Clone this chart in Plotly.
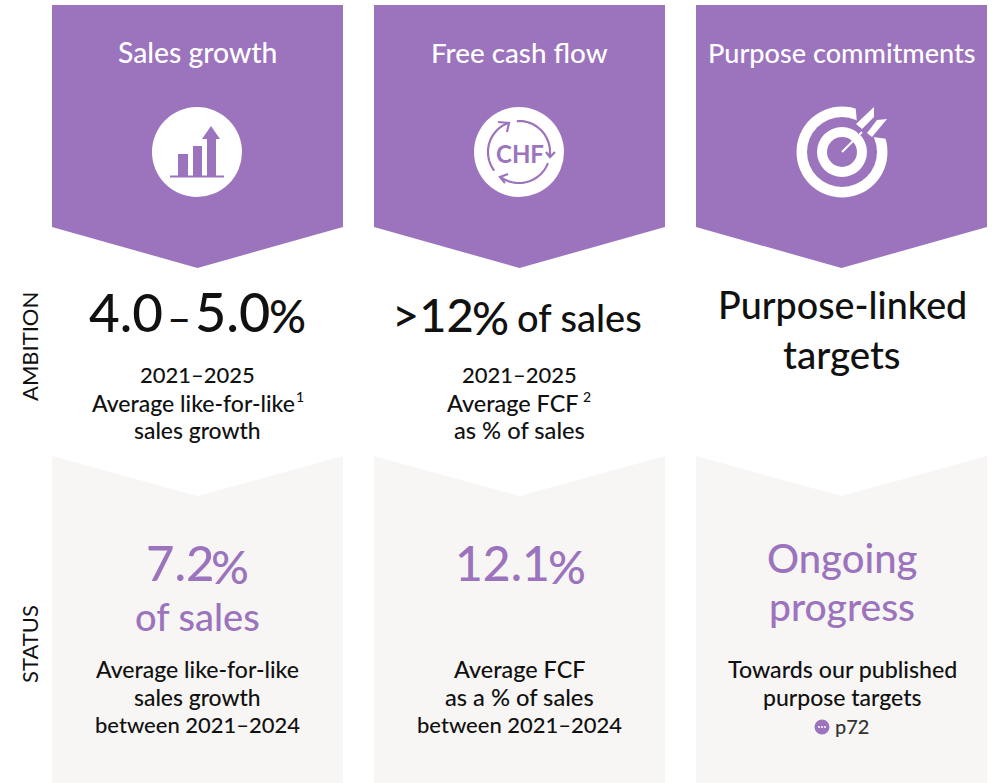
import math
import plotly.graph_objects as go

PURPLE = "#9C73BD"
PANEL = "#F7F6F4"
INK = "#111111"
FONT = "Lato"
WEIGHT = 500

column_left = [52, 374, 696]
column_width = 291
headers = [("Sales growth", 28.3), ("Free cash flow", 27.8), ("Purpose commitments", 27.1)]

# x, y, text, size, colour, anchor
texts = [
    (165, 311, "4.0", 53, INK, "right"),
    (179, 317, "–", 42, INK, "center"),
    (272, 311, "5.0", 54, INK, "right"),
    (267, 315, "%", 46, INK, "left"),
    (476, 314, "&gt;12", 47, INK, "right"),
    (470, 317, "%", 46, INK, "left"),
    (515, 317, "of sales", 38, INK, "left"),
    (842, 304, "Purpose-linked", 37.7, INK, "center"),
    (842, 354, "targets", 38.5, INK, "center"),
    (197, 374, "2021–2025", 22, INK, "center"),
    (193, 403, "Average like-for-like", 23, INK, "center"),
    (300, 396, "1", 14, INK, "center"),
    (197, 430, "sales growth", 22.9, INK, "center"),
    (519, 374, "2021–2025", 22, INK, "center"),
    (512, 403, "Average FCF", 23.4, INK, "center"),
    (587, 396, "2", 14, INK, "center"),
    (519, 430, "as % of sales", 23.7, INK, "center"),
    (216, 562, "7.2", 49, PURPLE, "right"),
    (209, 566, "%", 47, PURPLE, "left"),
    (197, 616, "of sales", 38, PURPLE, "center"),
    (552, 562, "12.1", 48, PURPLE, "right"),
    (546, 566, "%", 47, PURPLE, "left"),
    (842, 558, "Ongoing", 40, PURPLE, "center"),
    (842, 606, "progress", 39, PURPLE, "center"),
    (197, 669, "Average like-for-like", 23, INK, "center"),
    (197, 697, "sales growth", 22.9, INK, "center"),
    (197, 724, "between 2021–2024", 22, INK, "center"),
    (519, 669, "Average FCF", 23.4, INK, "center"),
    (519, 697, "as a % of sales", 23.7, INK, "center"),
    (519, 724, "between 2021–2024", 22, INK, "center"),
    (842, 669, "Towards our published", 23.2, INK, "center"),
    (842, 697, "purpose targets", 23, INK, "center"),
    (852, 726, "p72", 20, "#333333", "center"),
]
side_labels = [(29, 347, "AMBITION"), (29, 644, "STATUS")]

shapes = []
ann = []


def poly(pts, fill, line=None, lw=0):
    d = "M" + " L".join(f"{x:.2f},{y:.2f}" for x, y in pts) + " Z"
    shapes.append(dict(type="path", path=d, fillcolor=fill,
                       line=dict(color=line or fill, width=lw)))


def stroke(pts, color, lw):
    d = "M" + " L".join(f"{x:.2f},{y:.2f}" for x, y in pts)
    shapes.append(dict(type="path", path=d, line=dict(color=color, width=lw)))


def circle(cx, cy, r, fill):
    shapes.append(dict(type="circle", x0=cx - r, x1=cx + r, y0=cy - r, y1=cy + r,
                       fillcolor=fill, line=dict(width=0)))


def arc(cx, cy, r, a0, a1, n=30):
    return [(cx + r * math.cos(math.radians(a0 + (a1 - a0) * i / n)),
             cy + r * math.sin(math.radians(a0 + (a1 - a0) * i / n))) for i in range(n + 1)]


for x in column_left:
    m = x + column_width / 2
    poly([(x, 5), (x + column_width, 5), (x + column_width, 227), (m, 268), (x, 227)], PURPLE)
    poly([(x, 456), (m, 496), (x + column_width, 456), (x + column_width, 783), (x, 783)], PANEL)

# icon 1: bars and arrow
circle(197, 152, 45, "white")
poly([(178, 154), (188, 154), (188, 176), (178, 176)], PURPLE)
poly([(193, 146), (202, 146), (202, 176), (193, 176)], PURPLE)
poly([(207, 139), (202, 139), (211, 126), (220, 139), (216, 139), (216, 176), (207, 176)], PURPLE)
stroke([(170, 176.5), (224, 176.5)], PURPLE, 2)

# icon 2: CHF cycle
cx2, cy2 = 519, 152
circle(cx2, cy2, 45, "white")
r2 = 31
stroke(arc(cx2, cy2, r2, 143, 251), PURPLE, 2.2)
stroke(arc(cx2, cy2, r2, 266, 369), PURPLE, 2.2)
stroke(arc(cx2, cy2, r2, 21, 127), PURPLE, 2.2)
stroke([(498, 122), (509, 123), (507, 132)], PURPLE, 2.2)
stroke([(546, 152), (550, 157), (555, 152)], PURPLE, 2.2)
stroke([(508, 174), (500, 177), (505, 183)], PURPLE, 2.2)
ann.append(dict(x=cx2 + 1, y=cy2 + 1, text="<b>CHF</b>", font=dict(family=FONT, size=24, color=PURPLE),
                showarrow=False, xanchor="center", yanchor="middle"))

# icon 3: target
cx3, cy3 = 842, 152
circle(cx3, cy3, 45.5, "white")
circle(cx3, cy3, 35, PURPLE)
circle(cx3, cy3, 25, "white")
circle(cx3, cy3, 15, PURPLE)
poly([(858, 135), (855, 100), (895, 100), (895, 140)], PURPLE)
stroke([(842, 152), (862, 132)], "white", 2)
poly([(856, 124), (874, 107), (874, 117), (862, 129)], "white")
poly([(867, 133), (877, 120), (887, 119), (872, 137)], "white")

# page-reference bullet
circle(822, 727, 7.5, PURPLE)
for dx in (-3, 0, 3):
    circle(822 + dx, 727, 1, "white")

for x, (h, s) in zip(column_left, headers):
    ann.append(dict(x=x + column_width / 2, y=52, text=h,
                    font=dict(family=FONT, size=s, color="white", weight=WEIGHT),
                    showarrow=False, xanchor="center", yanchor="middle"))
for x, y, t, s, c, a in texts:
    ann.append(dict(x=x, y=y, text=t, font=dict(family=FONT, size=s, color=c, weight=WEIGHT),
                    showarrow=False, xanchor=a, yanchor="middle"))
for x, y, t in side_labels:
    ann.append(dict(x=x, y=y, text=t, textangle=-90,
                    font=dict(family=FONT, size=22, color=INK),
                    showarrow=False, xanchor="center", yanchor="middle"))

fig = go.Figure()
fig.update_layout(
    width=993, height=783, margin=dict(l=0, r=0, t=0, b=0),
    paper_bgcolor="white", plot_bgcolor="white",
    xaxis=dict(range=[0, 993], visible=False, fixedrange=True),
    yaxis=dict(range=[783, 0], visible=False, fixedrange=True),
    shapes=shapes, annotations=ann, showlegend=False,
)
fig.write_html("out.html", config=dict(displayModeBar=False),
               post_script="document.body.style.margin='0';document.documentElement.style.overflow='hidden';")
